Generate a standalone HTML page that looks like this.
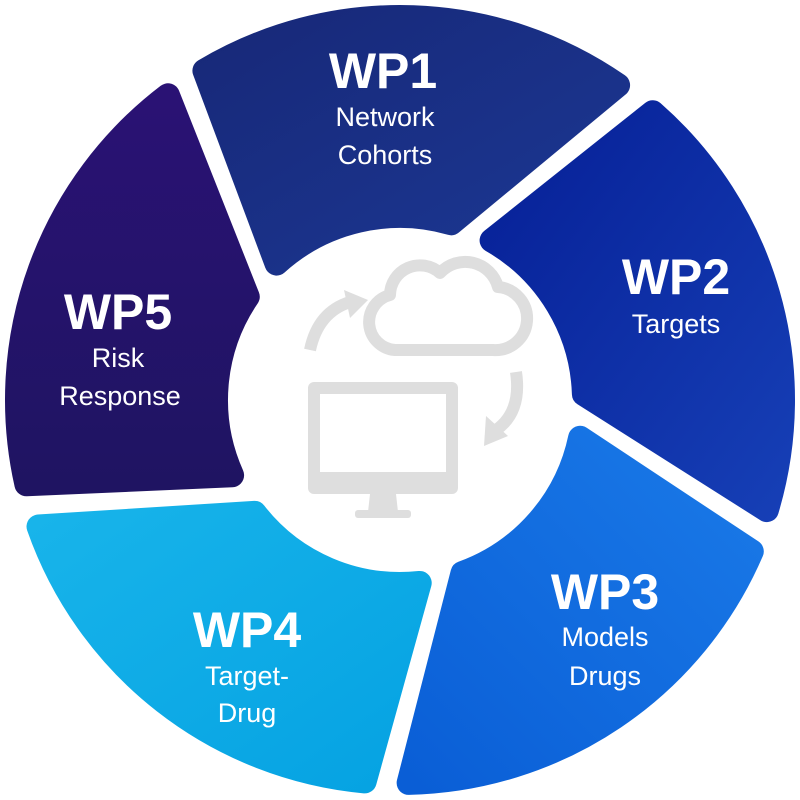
<!DOCTYPE html>
<html><head><meta charset="utf-8">
<style>
html,body{margin:0;padding:0;background:#fff;width:800px;height:800px;overflow:hidden}
svg{display:block}
text{font-family:"Liberation Sans",sans-serif;fill:#fff;text-anchor:middle}
.wp{font-size:50px;font-weight:bold}
.sub{font-size:27px}
</style></head>
<body>
<svg id="chart" width="800" height="800" viewBox="0 0 800 800">
<defs>
<linearGradient id="g1" x1="0" y1="0" x2="1" y2="1"><stop offset="0" stop-color="#172878"/><stop offset="1" stop-color="#1c3894"/></linearGradient>
<linearGradient id="g2" x1="0" y1="0" x2="1" y2="1"><stop offset="0" stop-color="#061f96"/><stop offset="1" stop-color="#163fb6"/></linearGradient>
<linearGradient id="g3" x1="1" y1="0" x2="0" y2="1"><stop offset="0" stop-color="#1a7ae8"/><stop offset="1" stop-color="#0a5ed6"/></linearGradient>
<linearGradient id="g4" x1="0" y1="0" x2="1" y2="1"><stop offset="0" stop-color="#18b4ea"/><stop offset="1" stop-color="#05a2e2"/></linearGradient>
<linearGradient id="g5" x1="0" y1="0" x2="0" y2="1"><stop offset="0" stop-color="#2a1274"/><stop offset="1" stop-color="#1f1462"/></linearGradient>
</defs>
<g id="segments"></g>
<g fill="#dedede" stroke="none">
<rect x="308" y="382" width="150" height="112" rx="6" fill="#dedede"/>
<rect x="320" y="394" width="126" height="78" fill="#fff"/>
<path d="M370 494 L396 494 L398 512 L368 512 Z"/>
<rect x="355" y="510" width="56" height="8" rx="3"/>
<path d="M395 350 a28 28 0 0 1 -5 -55 a30 30 0 0 1 50 -22 a34 34 0 0 1 58 14 a30 30 0 0 1 -5 63 Z" fill="none" stroke="#dedede" stroke-width="12" stroke-linejoin="round"/>
<path d="M310 350 Q318 312 350 302" fill="none" stroke="#dedede" stroke-width="12"/>
<path d="M344 290 L368 300 L350 318 Z"/>
<path d="M516 372 Q522 412 496 430" fill="none" stroke="#dedede" stroke-width="12"/>
<path d="M486 416 L484 446 L508 436 Z"/>
</g>
<g>
<text class="wp" x="383" y="88">WP1</text>
<text class="sub" x="385" y="126">Network</text>
<text class="sub" x="385" y="164">Cohorts</text>
<text class="wp" x="676" y="294">WP2</text>
<text class="sub" x="676" y="333">Targets</text>
<text class="wp" x="605" y="609">WP3</text>
<text class="sub" x="605" y="646">Models</text>
<text class="sub" x="605" y="685">Drugs</text>
<text class="wp" x="247" y="647">WP4</text>
<text class="sub" x="247" y="685">Target-</text>
<text class="sub" x="247" y="722">Drug</text>
<text class="wp" x="118" y="329">WP5</text>
<text class="sub" x="118" y="367">Risk</text>
<text class="sub" x="120" y="405">Response</text>
</g>
</svg>
<script>
const categories = ["WP1","WP2","WP3","WP4","WP5"];
const segmentShares = [1,1,1,1,1];
const fills = ["url(#g1)","url(#g2)","url(#g3)","url(#g4)","url(#g5)"];
const startAngle = -124; // outer boundary angle of first segment, degrees
const cx=400, cy=400, R=383, r=184, skew=15, pad=22;
const g=document.getElementById('segments');
const total=segmentShares.reduce((a,b)=>a+b,0);
let a=startAngle;
function pt(rad,deg){const t=deg*Math.PI/180;return [cx+rad*Math.cos(t),cy+rad*Math.sin(t)];}
segmentShares.forEach((v,i)=>{
  const span=v/total*360;
  const o0=a+pad/R*180/Math.PI, o1=a+span-pad/R*180/Math.PI;
  const i0=a-skew+pad/r*180/Math.PI, i1=a+span-skew-pad/r*180/Math.PI;
  const p1=pt(R,o0),p2=pt(R,o1),p3=pt(r,i1),p4=pt(r,i0);
  const d=`M${p1} A${R} ${R} 0 0 1 ${p2} L${p3} A${r} ${r} 0 0 0 ${p4} Z`;
  const p=document.createElementNS('http://www.w3.org/2000/svg','path');
  p.setAttribute('d',d);
  p.setAttribute('fill',fills[i]);
  p.setAttribute('stroke',fills[i]);
  p.setAttribute('stroke-width','24');
  p.setAttribute('stroke-linejoin','round');
  
  
  g.appendChild(p);
  a+=span;
});
</script>
</body></html>
